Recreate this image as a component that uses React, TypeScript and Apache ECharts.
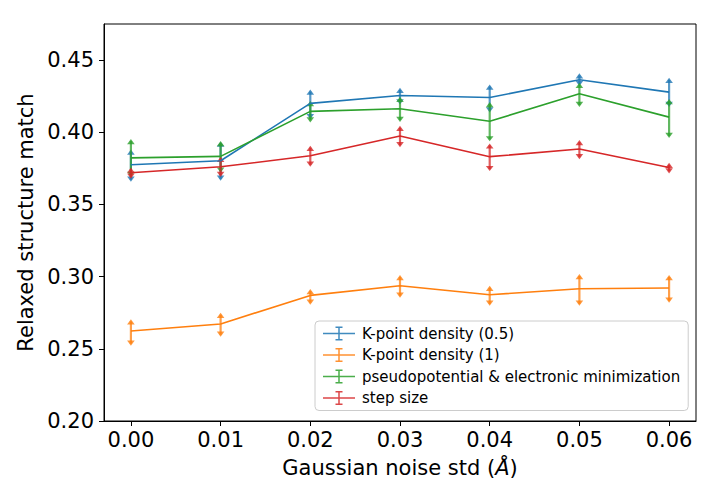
import React, { useEffect, useRef } from "react";
import * as echarts from "echarts";

const noiseStd = [0, 0.01, 0.02, 0.03, 0.04, 0.05, 0.06];
const xTicks = [0, 0.01, 0.02, 0.03, 0.04, 0.05, 0.06];
const yTicks = [0.2, 0.25, 0.3, 0.35, 0.4, 0.45];

const seriesNames = [
  "K-point density (0.5)",
  "K-point density (1)",
  "pseudopotential & electronic minimization",
  "step size",
];
const colors = ["#1f77b4", "#ff7f0e", "#2ca02c", "#d62728"];

const kp05Mean = [0.3775, 0.3803, 0.42, 0.4255, 0.4241, 0.4364, 0.4278];
const kp05High = [0.388, 0.3935, 0.4296, 0.4308, 0.4331, 0.4408, 0.4377];
const kp05Low = [0.3657, 0.3664, 0.4091, 0.4193, 0.4137, 0.432, 0.4175];

const kp1Mean = [0.2623, 0.2672, 0.287, 0.2937, 0.2875, 0.2916, 0.2921];
const kp1High = [0.2704, 0.275, 0.2914, 0.3011, 0.2937, 0.3018, 0.3011];
const kp1Low = [0.2522, 0.2584, 0.2806, 0.2854, 0.2798, 0.2798, 0.2819];

const pseudoMean = [0.3823, 0.3833, 0.4145, 0.4163, 0.4076, 0.4267, 0.4105];
const pseudoHigh = [0.3953, 0.3939, 0.4216, 0.4246, 0.421, 0.4343, 0.423];
const pseudoLow = [0.369, 0.372, 0.4068, 0.4071, 0.3937, 0.4175, 0.396];

const stepMean = [0.372, 0.3761, 0.3837, 0.3974, 0.3831, 0.3884, 0.3756];
const stepHigh = [0.3756, 0.383, 0.3907, 0.4045, 0.3923, 0.3946, 0.3789];
const stepLow = [0.3678, 0.369, 0.3761, 0.3896, 0.3731, 0.3813, 0.3715];

const means = [kp05Mean, kp1Mean, pseudoMean, stepMean];
const highs = [kp05High, kp1High, pseudoHigh, stepHigh];
const lows = [kp05Low, kp1Low, pseudoLow, stepLow];

const FONT = "DejaVu Sans";
const legendIcon =
  "path://M0,7.25h32v1.5h-32z M15.25,1h1.5v14h-1.5z M12.5,1h7v1.5h-7z M12.5,13.5h7v1.5h-7z";

function makeErrRenderer(color: string) {
  return (params: any, api: any) => {
    const x = api.value(0);
    const lo = api.coord([x, api.value(1)]);
    const hi = api.coord([x, api.value(2)]);
    const w = 3.8;
    const h = 5.2;
    const style = { stroke: color, lineWidth: 2.2, opacity: 0.75 };
    const fillStyle = { fill: color, opacity: 0.8 };
    return {
      type: "group",
      children: [
        {
          type: "line",
          shape: { x1: lo[0], y1: lo[1] - 2, x2: hi[0], y2: hi[1] + 2 },
          style,
        },
        {
          type: "polygon",
          shape: {
            points: [
              [hi[0], hi[1]],
              [hi[0] - w, hi[1] + h],
              [hi[0] + w, hi[1] + h],
            ],
          },
          style: fillStyle,
        },
        {
          type: "polygon",
          shape: {
            points: [
              [lo[0], lo[1]],
              [lo[0] - w, lo[1] - h],
              [lo[0] + w, lo[1] - h],
            ],
          },
          style: fillStyle,
        },
      ],
    };
  };
}

export default function App() {
  const ref = useRef<HTMLDivElement>(null);
  useEffect(() => {
    const chart = echarts.init(ref.current!, null, { renderer: "svg" });
    const series: any[] = [];
    seriesNames.forEach((name, i) => {
      series.push({
        name,
        type: "line",
        data: noiseStd.map((x, j) => [x, means[i][j]]),
        symbol: "none",
        lineStyle: { color: colors[i], width: 1.6 },
        itemStyle: { color: colors[i] },
      });
      series.push({
        name,
        type: "custom",
        data: noiseStd.map((x, j) => [x, lows[i][j], highs[i][j]]),
        encode: { x: 0, y: [1, 2] },
        renderItem: makeErrRenderer(colors[i]),
        itemStyle: { color: colors[i] },
      });
    });

    chart.setOption({
      animation: false,
      backgroundColor: "#ffffff",
      textStyle: { fontFamily: FONT },
      grid: {
        left: 104,
        right: 24,
        top: 24,
        bottom: 83,
        show: true,
        borderColor: "#000",
        borderWidth: 1,
        backgroundColor: "transparent",
      },
      legend: {
        orient: "vertical",
        left: 315,
        top: 321,
        padding: [5, 8, 5, 8],
        itemWidth: 32,
        itemHeight: 16,
        itemGap: 6.5,
        borderColor: "#cccccc",
        borderWidth: 1,
        borderRadius: 4,
        backgroundColor: "rgba(255,255,255,0.8)",
        textStyle: { fontFamily: FONT, fontSize: 15, color: "#000", padding: [0, 0, 0, 2] },
        data: seriesNames.map((name, i) => ({
          name,
          icon: legendIcon,
          itemStyle: { color: colors[i], opacity: 0.85 },
        })),
      },
      xAxis: {
        type: "value",
        min: -0.003,
        max: 0.063,
        name: "Gaussian noise std ({i|Å})",
        nameLocation: "middle",
        nameGap: 36,
        nameTextStyle: {
          fontFamily: FONT,
          fontSize: 21,
          color: "#000",
          rich: { i: { fontFamily: FONT, fontSize: 21, fontStyle: "italic", color: "#000" } },
        },
        axisLine: { show: true, onZero: false, lineStyle: { color: "#000", width: 1 } },
        axisTick: { show: true, inside: false, length: 5, customValues: xTicks, lineStyle: { color: "#000" } },
        axisLabel: {
          customValues: xTicks,
          margin: 8,
          fontFamily: FONT,
          fontSize: 21,
          color: "#000",
          formatter: (v: number) => v.toFixed(2),
        },
        splitLine: { show: false },
      },
      yAxis: {
        type: "value",
        min: 0.2,
        max: 0.475,
        name: "Relaxed structure match",
        nameLocation: "middle",
        nameGap: 59,
        nameTextStyle: { fontFamily: FONT, fontSize: 21, color: "#000" },
        axisLine: { show: true, onZero: false, lineStyle: { color: "#000", width: 1 } },
        axisTick: { show: true, inside: false, length: 5, customValues: yTicks, lineStyle: { color: "#000" } },
        axisLabel: {
          customValues: yTicks,
          margin: 10,
          fontFamily: FONT,
          fontSize: 21,
          color: "#000",
          formatter: (v: number) => v.toFixed(2),
        },
        splitLine: { show: false },
      },
      series,
    });
    return () => chart.dispose();
  }, []);
  return (
    <div
      ref={ref}
      style={{ position: "absolute", left: 0, top: 0, width: 720, height: 504 }}
    />
  );
}
